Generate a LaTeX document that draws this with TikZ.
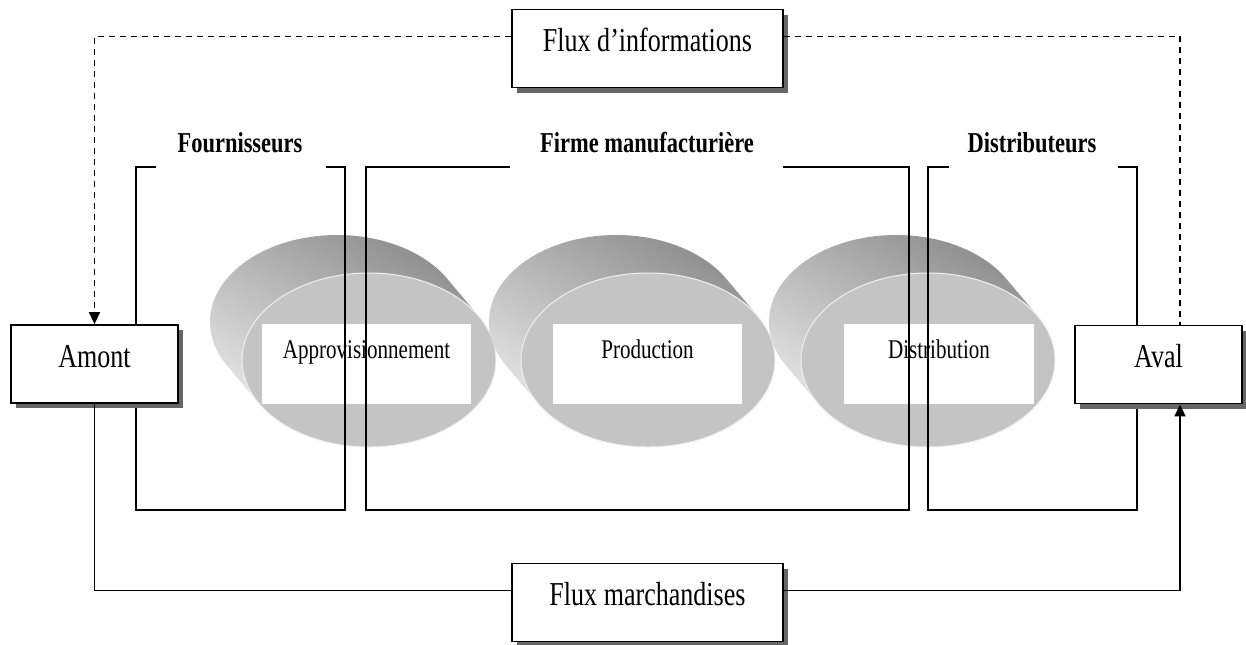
\documentclass[tikz,border=0pt]{standalone}
\usepackage{fontspec}
\setmainfont{Liberation Serif}[FakeStretch=0.78]
\usetikzlibrary{arrows.meta,shadows}

\begin{document}
\begin{tikzpicture}[
		x=0.5pt,
		y=-0.5pt,
		flux box/.style={
			shape=rectangle,
			draw,
			line width=0.9pt,
			fill=white,
			inner ysep=0pt,
			text height=21pt,
			text depth=18pt,
			font=\fontsize{16.7}{18}\selectfont,
			drop shadow={fill=black!60, opacity=1, shadow xshift=2.5pt, shadow yshift=-2.5pt},
		},
		stage box/.style={
			shape=rectangle,
			fill=white,
			minimum width=#1,
			inner ysep=0pt,
			text height=17pt,
			text depth=23pt,
			font=\fontsize{13.5}{15}\selectfont,
		},
		group label/.style={
			anchor=base,
			font=\fontsize{14.4}{16}\selectfont\bfseries,
		},
		group line/.style={line width=0.8pt},
		disc side/.style={top color=black!45, bottom color=black!8, shading angle=-30},
		disc face/.style={fill=black!23, draw=black!6, line width=0.5pt},
		info flow/.style={dash pattern=on 3pt off 2.5pt, line width=0.75pt},
		goods flow/.style={line width=0.85pt},
		flow tip/.style={-{Triangle[length=6pt,width=5.5pt]}},
	]
	\useasboundingbox (0,0) rectangle (1246,644);

	\foreach \cx in {369,648,928} {
		\shade[disc side] (\cx-32,322) ellipse [x radius=63.5pt, y radius=43.5pt]
			(\cx,360) ellipse [x radius=63.5pt, y radius=43.5pt]
			(\cx+110,316.5) -- (\cx+78,278.5) -- (\cx-142,365.5) -- (\cx-110,403.5) -- cycle;
		\path[disc face] (\cx,360) ellipse [x radius=63.5pt, y radius=43.5pt];
	}

	\node[stage box=104.5pt] (appro) at (366.5,364) {Approvisionnement};
	\node[stage box=94.5pt] (prod) at (647.5,364) {Production};
	\node[stage box=95pt] (distri) at (939,364) {Distribution};

	\draw[group line] (156,167) -- (136,167) -- (136,510) -- (345,510) -- (345,167) -- (326,167);
	\draw[group line] (510,167) -- (366,167) -- (366,510) -- (909,510) -- (909,167) -- (783,167);
	\draw[group line] (949,167) -- (928,167) -- (928,510) -- (1137,510) -- (1137,167) -- (1118,167);

	\node[group label] (fourn) at (240,152) {Fournisseurs};
	\node[group label] (firme) at (647,152) {Firme manufacturière};
	\node[group label] (distrib) at (1032,152) {Distributeurs};

	\node[flux box, minimum width=135.5pt] (info) at (647.5,48.5) {Flux d’informations};
	\node[flux box, minimum width=83.5pt] (amont) at (94.5,364) {Amont};
	\node[flux box, minimum width=83.5pt] (aval) at (1158.5,364.5) {Aval};
	\node[flux box, minimum width=135.5pt] (march) at (647.5,602.5) {Flux marchandises};

	\draw[info flow, flow tip] (info.175) -| (amont.north);
	\draw[info flow] (info.5) -| ([xshift=10.75pt]aval.north);
	\draw[goods flow] (amont.south) |- (march.175);
	\draw[goods flow, flow tip] (march.5) -| ([xshift=10.75pt]aval.south);
\end{tikzpicture}
\end{document}
